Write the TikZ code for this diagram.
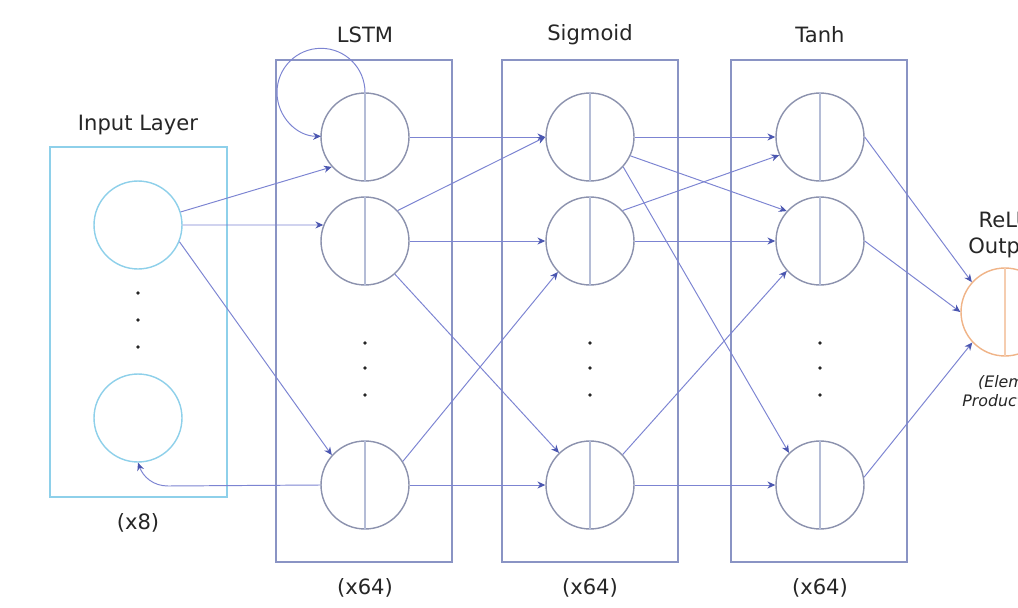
\documentclass[tikz,border=0pt]{standalone}
\usepackage{fontspec}
\setmainfont{DejaVu Sans}
\usetikzlibrary{arrows.meta}
\definecolor{inblue}{HTML}{8ED0EA}
\definecolor{boxc}{HTML}{8A94C4}
\definecolor{circc}{HTML}{8C92AE}
\definecolor{divc}{HTML}{B4BCD6}
\definecolor{edgec}{HTML}{7C84D2}
\definecolor{tipc}{HTML}{4A56B0}
\definecolor{outc}{HTML}{F0B488}
\definecolor{outdiv}{HTML}{F5CDB0}
\definecolor{txt}{HTML}{262626}
\begin{document}
\begin{tikzpicture}[x=0.02cm,y=-0.02cm,
 neuron/.style={circle,draw=circc,fill=white,line width=0.8pt,minimum size=1.76cm,inner sep=0pt},
 inneuron/.style={neuron,draw=inblue},
 outneuron/.style={neuron,draw=outc},
 layerbox/.style={rectangle,draw=boxc,line width=1.1pt,minimum width=3.52cm,minimum height=10.04cm,inner sep=0pt},
 inbox/.style={layerbox,draw=inblue,minimum width=3.54cm,minimum height=7cm},
 title/.style={text=txt,font=\fontsize{12}{15}\selectfont,align=center},
 note/.style={text=txt,font=\fontsize{9}{11}\selectfont\itshape,align=left,inner sep=0pt},
 edge/.style={draw=edgec,line width=0.55pt,-{Stealth[length=4.5pt,width=4pt,color=tipc]}},
 divider/.style={draw=divc,line width=0.8pt},
 outdivider/.style={draw=outdiv,line width=0.8pt},
 dot/.style={fill=txt}]
\useasboundingbox (0,0) rectangle (1018,608);
\clip (0,0) rectangle (1018,608);
\fill[white] (0,0) rectangle (1018,608);

% layer boxes
\node[inbox] (BI) at (138.5,322) {};
\node[layerbox] (BL) at (364,311) {};
\node[layerbox] (BS) at (590,311) {};
\node[layerbox] (BT) at (819,311) {};

% titles and counts
\node[title] (tI) at (138,125) {Input Layer};
\node[title] (tL) at (365,35) {LSTM};
\node[title] (tS) at (590,35) {Sigmoid};
\node[title] (tT) at (820,35) {Tanh};
\node[title] (cI) at (138,523) {(x8)};
\node[title] (cL) at (365,588) {(x64)};
\node[title] (cS) at (590,588) {(x64)};
\node[title] (cT) at (820,588) {(x64)};
\node[title] (tO) at (1005,235) {ReLU\\Output};
\node[note,anchor=west] (nO) at (962,392) {\hspace*{9pt}(Element-wise\\Product)};

% neurons
\node[inneuron] (I1) at (138,225) {};
\node[inneuron] (I2) at (138,418) {};
\foreach \n/\x in {L/365,S/590,T/820}{
  \node[neuron] (\n1) at (\x,137) {};
  \node[neuron] (\n2) at (\x,241) {};
  \node[neuron] (\n3) at (\x,485) {};
  \foreach \k in {1,2,3}{\draw[divider] (\n\k.north) -- (\n\k.south);}
  \foreach \y in {343,368,395}{\fill[dot] (\x,\y) circle[radius=1.1pt];}
}
\node[outneuron] (O) at (1005,312) {};
\draw[outdivider] (O.north) -- (O.south);
\foreach \y in {293,320,347}{\fill[dot] (138,\y) circle[radius=1.1pt];}

% input -> LSTM
\draw[edge] (I1.17) -- (L1.222);
\draw[edge] (I1.east) -- (L2.159);
\draw[edge] (I1.-22) -- (L3.138);
% recurrent connections
\draw[edge] (L1.north) arc[start angle=0,end angle=270,radius=0.88cm];
\coordinate (bend) at (168,486);
\draw[edge] (L3.west) -- (bend) to[out=180,in=-70] (I2.south);

% LSTM -> Sigmoid
\draw[edge] (L1.east) -- (S1.west);
\draw[edge] (L2.43) -- (S1.west);
\draw[edge] (L2.east) -- (S2.west);
\draw[edge] (L2.-48) -- (S3.134);
\draw[edge] (L3.32) -- (S2.224);
\draw[edge] (L3.east) -- (S3.west);

% Sigmoid -> Tanh
\draw[edge] (S1.east) -- (T1.west);
\draw[edge] (S2.43) -- (T1.204);
\draw[edge] (S1.-25) -- (T2.138);
\draw[edge] (S1.-42) -- (T3.134);
\draw[edge] (S2.east) -- (T2.west);
\draw[edge] (S3.43) -- (T2.222);
\draw[edge] (S3.east) -- (T3.west);

% Tanh -> Output
\draw[edge] (T1.east) -- (O.138);
\draw[edge] (T2.east) -- (O.west);
\draw[edge] (T3.10) -- (O.223);
\end{tikzpicture}
\end{document}
